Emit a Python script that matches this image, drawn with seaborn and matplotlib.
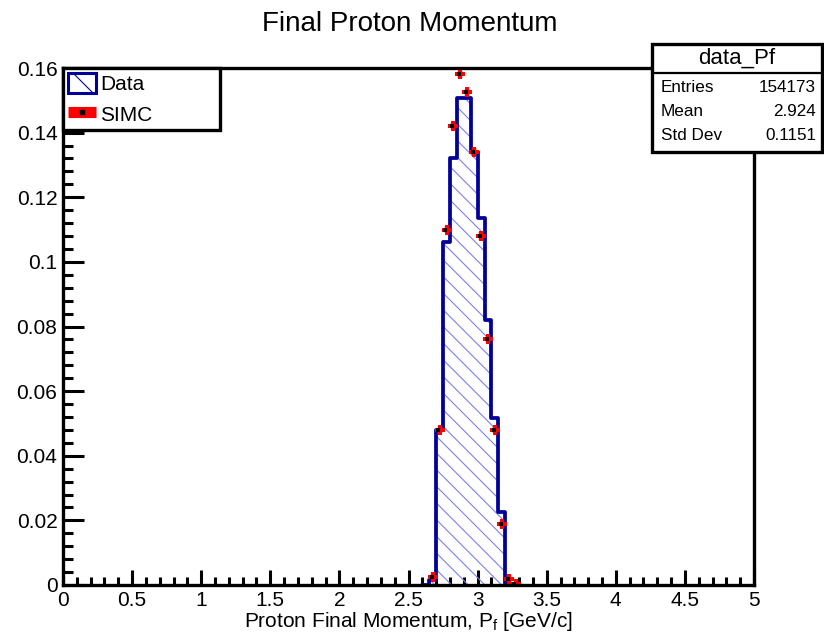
import numpy as np
import pandas as pd
import matplotlib
matplotlib.use("Agg")
import matplotlib.pyplot as plt
import seaborn as sns
from matplotlib.patches import Rectangle, Patch
from matplotlib.lines import Line2D
from matplotlib.ticker import MultipleLocator, FormatStrFormatter

# ---- data ----
data_centers = [2.625, 2.675, 2.725, 2.775, 2.825, 2.875, 2.925, 2.975, 3.025, 3.075, 3.125, 3.175, 3.225, 3.275]
data_values = [0.0, 0.0015, 0.048, 0.106, 0.132, 0.1506, 0.1506, 0.134, 0.1135, 0.082, 0.0516, 0.0227, 0.0, 0.0]
simc_centers = [2.675, 2.725, 2.775, 2.825, 2.875, 2.925, 2.975, 3.025, 3.075, 3.125, 3.175, 3.225, 3.275]
simc_values = [0.0026, 0.048, 0.110, 0.142, 0.158, 0.1525, 0.134, 0.108, 0.076, 0.048, 0.0188, 0.002, 0.0003]
bin_width = 0.05
stats_labels = ["Entries", "Mean", "Std Dev"]
stats_values = ["154173", "2.924", "0.1151"]
x_ticks = [0, 0.5, 1, 1.5, 2, 2.5, 3, 3.5, 4, 4.5, 5]
y_ticks = [0, 0.02, 0.04, 0.06, 0.08, 0.1, 0.12, 0.14, 0.16]

sns.set_theme(style="white")
plt.rcParams["font.family"] = ["Liberation Sans", "DejaVu Sans"]
plt.rcParams["text.color"] = "black"
plt.rcParams["axes.labelcolor"] = "black"
plt.rcParams["xtick.color"] = "black"
plt.rcParams["ytick.color"] = "black"
plt.rcParams["hatch.linewidth"] = 0.8
plt.rcParams["mathtext.fontset"] = "custom"
plt.rcParams["mathtext.rm"] = "Liberation Sans"
plt.rcParams["mathtext.it"] = "Liberation Sans"

navy = "#000099"
hatch_col = "#8080ee"

fig = plt.figure(figsize=(8.24, 6.35), dpi=100)
ax = fig.add_axes([63 / 824, 1 - 585 / 635, (754 - 63) / 824, (585 - 68) / 635])

df = pd.DataFrame({"x": data_centers, "w": data_values})
edges = [round(data_centers[0] - bin_width / 2 + i * bin_width, 4) for i in range(len(data_centers) + 1)]

sns.histplot(data=df, x="x", weights="w", bins=edges, element="step", fill=True,
             color=hatch_col, facecolor=(1, 1, 1, 0), edgecolor=hatch_col, hatch="\\\\",
             linewidth=0, ax=ax)
sns.histplot(data=df, x="x", weights="w", bins=edges, element="step", fill=False,
             color=navy, linewidth=2.7, ax=ax)

sdf = pd.DataFrame({"x": simc_centers, "y": simc_values})
ax.errorbar(sdf["x"], sdf["y"], xerr=0.009, yerr=0.0011, fmt="none", ecolor="red",
            elinewidth=3.2, capsize=0, zorder=4)
sns.scatterplot(data=sdf, x="x", y="y", marker="P", s=45, color="red", edgecolor="red",
                linewidth=0, ax=ax, zorder=5)
sdf2 = sdf.assign(x=sdf["x"] - 0.008)
sns.scatterplot(data=sdf2, x="x", y="y", marker="s", s=9, color="black", edgecolor="black",
                linewidth=0, ax=ax, zorder=6)

ax.set_xlim(0, 5)
ax.set_ylim(0, 0.16)
ax.set_xticks(x_ticks)
ax.set_yticks(y_ticks)
ax.xaxis.set_major_formatter(FormatStrFormatter("%g"))
ax.yaxis.set_major_formatter(FormatStrFormatter("%g"))
ax.xaxis.set_minor_locator(MultipleLocator(0.1))
ax.yaxis.set_minor_locator(MultipleLocator(0.004))
ax.tick_params(axis="x", which="major", direction="in", length=11, width=2.2, labelsize=15, pad=4,
               bottom=True, top=False, color="black", labelcolor="black")
ax.tick_params(axis="x", which="minor", direction="in", length=5.5, width=2.2, bottom=True, top=False)
ax.tick_params(axis="y", which="major", direction="in", length=15, width=2.2, labelsize=15, pad=4,
               left=True, right=False, color="black", labelcolor="black")
ax.tick_params(axis="y", which="minor", direction="in", length=7.5, width=2.2, left=True, right=False)
for s in ax.spines.values():
    s.set_visible(True)
    s.set_color("black")
    s.set_linewidth(2.4)
    s.set_zorder(7)
ax.set_ylabel("")
ax.set_xlabel(r"Proton Final Momentum, P$_{f}$ [GeV/c]", fontsize=15, color="black", labelpad=0)
fig.text(0.497, 0.962, "Final Proton Momentum", ha="center", va="center", fontsize=20, color="black")

handles = [
    Patch(facecolor="white", edgecolor=navy, hatch="\\", linewidth=2.2),
    (Line2D([], [], color="red", lw=8, solid_capstyle="butt"),
     Line2D([], [], marker="s", color="black", ms=3, ls="none")),
]
leg = ax.legend(handles, ["Data", "SIMC"], loc="upper left",
                bbox_to_anchor=(0.0, 0.878, 0.227, 0.122), mode="expand", borderaxespad=0,
                fontsize=15, handlelength=1.35, handleheight=1.1, handletextpad=0.2,
                labelspacing=0.45, borderpad=0.25, fancybox=False, framealpha=1,
                edgecolor="black", labelcolor="black")
leg.get_frame().set_linewidth(2.4)
leg.set_zorder(8)

# stats box
x0, x1 = 652 / 824, 822 / 824
y0, y1 = 1 - 152 / 635, 1 - 44 / 635
fig.patches.append(Rectangle((x0, y0), x1 - x0, y1 - y0, transform=fig.transFigure,
                             facecolor="white", edgecolor="black", linewidth=2.4, zorder=10))
fig.lines.append(Line2D([x0, x1], [1 - 73 / 635] * 2, transform=fig.transFigure,
                        color="black", linewidth=1.6, zorder=11))
fig.text((x0 + x1) / 2, 1 - 58 / 635, "data_Pf", ha="center", va="center", fontsize=16,
         color="black", zorder=12)
for i, (lab, val) in enumerate(zip(stats_labels, stats_values)):
    yy = 1 - (87 + 24 * i) / 635
    fig.text(661 / 824, yy, lab, ha="left", va="center", fontsize=12.3, color="black", zorder=12)
    fig.text(816 / 824, yy, val, ha="right", va="center", fontsize=12.3, color="black", zorder=12)

fig.savefig("out.png", dpi=100)
